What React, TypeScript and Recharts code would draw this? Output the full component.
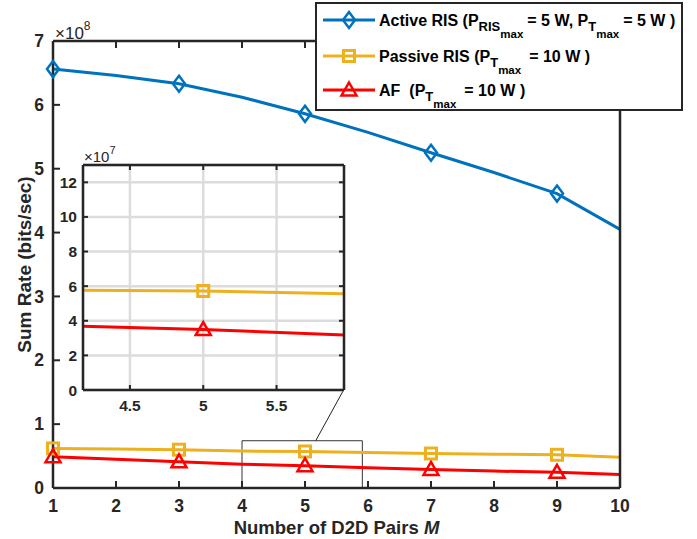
import React from 'react';
import { LineChart, Line, XAxis, YAxis, CartesianGrid, ReferenceArea, ReferenceLine } from 'recharts';

// number of D2D pairs M
const pairs = [1, 2, 3, 4, 5, 6, 7, 8, 9, 10];
// sum rate in bits/sec
const activeRis = [6.56e8, 6.46e8, 6.33e8, 6.12e8, 5.86e8, 5.57e8, 5.25e8, 4.94e8, 4.61e8, 4.05e8];
const passiveRis = [6.2e7, 6.1e7, 6.0e7, 5.78e7, 5.72e7, 5.55e7, 5.4e7, 5.3e7, 5.2e7, 4.8e7];
const af = [4.9e7, 4.5e7, 4.1e7, 3.72e7, 3.49e7, 3.17e7, 2.9e7, 2.65e7, 2.45e7, 2.1e7];

const mainYTicks = [0, 1e8, 2e8, 3e8, 4e8, 5e8, 6e8, 7e8];
const insetXTicks = [4.5, 5, 5.5];
const insetYTicks = [0, 2e7, 4e7, 6e7, 8e7, 10e7, 12e7];

const rows = pairs.map((m, i) => ({ m, active: activeRis[i], passive: passiveRis[i], af: af[i] }));

const FONT = '"Liberation Sans", Arial, Helvetica, sans-serif';
const AX = '#262626';
const BLUE = '#0072BD';
const YEL = '#EDB120';
const RED = '#FF0000';

const Diamond = ({ cx, cy }: { cx: number; cy: number }) => (
  <polygon points={`${cx},${cy - 8} ${cx + 6},${cy} ${cx},${cy + 8} ${cx - 6},${cy}`} fill="none" stroke={BLUE} strokeWidth={2.5} />
);
const Square = ({ cx, cy }: { cx: number; cy: number }) => (
  <rect x={cx - 5.5} y={cy - 5.5} width={11} height={11} fill="none" stroke={YEL} strokeWidth={3} />
);
const Triangle = ({ cx, cy }: { cx: number; cy: number }) => (
  <polygon points={`${cx},${cy - 7.5} ${cx + 7.5},${cy + 5.5} ${cx - 7.5},${cy + 5.5}`} fill="none" stroke={RED} strokeWidth={2.5} />
);

// markers only on odd M
const oddDot = (Shape: any) => (p: any) =>
  p.payload.m % 2 === 1 ? <Shape key={p.index} cx={p.cx} cy={p.cy} /> : <g key={p.index} />;

// inward (MATLAB style) ticks; tickSize is 0 so the axis line sits at label pos -/+ margin
const mkTick = (side: string, len: number, margin: number, fontSize: number, fmt?: (v: number) => string) => (p: any) => {
  const { x, y } = p;
  const label = fmt ? fmt(p.payload.value) : null;
  const txt = { fill: AX, fontSize, fontWeight: 700, fontFamily: FONT };
  if (side === 'bottom') {
    const ay = y - margin;
    return (
      <g>
        <line x1={x} y1={ay} x2={x} y2={ay - len} stroke={AX} strokeWidth={2} />
        {label !== null && <text x={x} y={y} dy="0.71em" textAnchor="middle" {...txt}>{label}</text>}
      </g>
    );
  }
  if (side === 'top') {
    return <line x1={x} y1={y} x2={x} y2={y + len} stroke={AX} strokeWidth={2} />;
  }
  if (side === 'left') {
    const ax = x + margin;
    return (
      <g>
        <line x1={ax} y1={y} x2={ax + len} y2={y} stroke={AX} strokeWidth={2} />
        {label !== null && <text x={x} y={y} dy="0.355em" textAnchor="end" {...txt}>{label}</text>}
      </g>
    );
  }
  return <line x1={x} y1={y} x2={x - len} y2={y} stroke={AX} strokeWidth={2} />;
};

const axLine = { stroke: AX, strokeWidth: 2.5 };

const xTitle = (props: any) => {
  const vb = props.viewBox;
  return (
    <text x={vb.x + vb.width / 2} y={534} textAnchor="middle" fontFamily={FONT} fontSize={18.5} fontWeight={700} fill={AX}>
      Number of D2D Pairs <tspan fontStyle="italic">M</tspan>
    </text>
  );
};
const yTitle = (props: any) => {
  const vb = props.viewBox;
  const cy = vb.y + vb.height / 2;
  return (
    <text x={24} y={cy} transform={`rotate(-90, 24, ${cy})`} textAnchor="middle" dominantBaseline="central" fontFamily={FONT} fontSize={19} fontWeight={700} fill={AX}>
      Sum Rate (bits/sec)
    </text>
  );
};

const MainChart = () => (
  <LineChart width={697} height={539} data={rows} margin={{ top: 40, right: 76, left: 0, bottom: 0 }}>
    <XAxis xAxisId="b" dataKey="m" type="number" domain={[1, 10]} ticks={pairs} height={51}
      tick={mkTick('bottom', 7, 12, 17.5, (v) => String(v))} tickSize={0} tickMargin={12} axisLine={axLine} tickLine={false} label={xTitle} />
    <XAxis xAxisId="t" orientation="top" dataKey="m" type="number" domain={[1, 10]} ticks={pairs} height={1}
      tick={mkTick('top', 7, 0, 17)} tickSize={0} tickMargin={0} axisLine={axLine} tickLine={false} />
    <YAxis yAxisId="l" type="number" domain={[0, 7e8]} ticks={mainYTicks} width={53}
      tick={mkTick('left', 7, 9, 17.5, (v) => String(Math.round(v / 1e8)))} tickSize={0} tickMargin={9} axisLine={axLine} tickLine={false} label={yTitle} />
    <YAxis yAxisId="r" orientation="right" type="number" domain={[0, 7e8]} ticks={mainYTicks} width={1}
      tick={mkTick('right', 7, 0, 17)} tickSize={0} tickMargin={0} axisLine={axLine} tickLine={false} />
    <ReferenceArea xAxisId="b" yAxisId="l" x1={4} x2={5.91} y1={0} y2={0.74e8} fill="none" fillOpacity={0} stroke="#333" strokeWidth={1} />
    <ReferenceLine xAxisId="b" yAxisId="l" segment={[{ x: 5.17, y: 0.74e8 }, { x: 5.61, y: 1.53e8 }]} stroke="#222" strokeWidth={1} ifOverflow="visible" />
    <Line xAxisId="b" yAxisId="l" dataKey="active" stroke={BLUE} strokeWidth={3} dot={oddDot(Diamond)} isAnimationActive={false} />
    <Line xAxisId="b" yAxisId="l" dataKey="passive" stroke={YEL} strokeWidth={3} dot={oddDot(Square)} isAnimationActive={false} />
    <Line xAxisId="b" yAxisId="l" dataKey="af" stroke={RED} strokeWidth={3} dot={oddDot(Triangle)} isAnimationActive={false} />
  </LineChart>
);

const InsetChart = () => (
  <LineChart width={310} height={275} data={rows} margin={{ top: 14, right: 5, left: 0, bottom: 0 }}>
    <CartesianGrid xAxisId="b" yAxisId="l" stroke="#dcdcdc" strokeWidth={2.5} fill="#fff" />
    <XAxis xAxisId="b" dataKey="m" type="number" domain={[4.18, 5.96]} allowDataOverflow ticks={insetXTicks} height={35}
      tick={mkTick('bottom', 5, 10, 15.5, (v) => String(v))} tickSize={0} tickMargin={10} axisLine={axLine} tickLine={false} />
    <XAxis xAxisId="t" orientation="top" dataKey="m" type="number" domain={[4.18, 5.96]} allowDataOverflow ticks={insetXTicks} height={1}
      tick={mkTick('top', 5, 0, 15)} tickSize={0} tickMargin={0} axisLine={axLine} tickLine={false} />
    <YAxis yAxisId="l" type="number" domain={[0, 13e7]} allowDataOverflow ticks={insetYTicks} width={43}
      tick={mkTick('left', 5, 6, 15.5, (v) => String(Math.round(v / 1e7)))} tickSize={0} tickMargin={6} axisLine={axLine} tickLine={false} />
    <YAxis yAxisId="r" orientation="right" type="number" domain={[0, 13e7]} allowDataOverflow ticks={insetYTicks} width={1}
      tick={mkTick('right', 5, 0, 15)} tickSize={0} tickMargin={0} axisLine={axLine} tickLine={false} />
    <Line xAxisId="b" yAxisId="l" dataKey="passive" stroke={YEL} strokeWidth={3} dot={oddDot(Square)} isAnimationActive={false} />
    <Line xAxisId="b" yAxisId="l" dataKey="af" stroke={RED} strokeWidth={3} dot={oddDot(Triangle)} isAnimationActive={false} />
  </LineChart>
);

const lg = { fontFamily: FONT, fontWeight: 700, fill: '#000', fontSize: 16 } as const;

const Legend = () => (
  <svg width={697} height={539} style={{ position: 'absolute', left: 0, top: 0, pointerEvents: 'none' }}>
    <text x={55} y={39} fontFamily={FONT} fontSize={17} fill={AX}>
      ×10<tspan dy={-9} fontSize={12}>8</tspan>
    </text>
    <text x={84} y={162} fontFamily={FONT} fontSize={15} fill={AX}>
      ×10<tspan dy={-8} fontSize={11}>7</tspan>
    </text>

    <rect x={316} y={3} width={366} height={107} fill="#fff" stroke={AX} strokeWidth={2} />

    <line x1={323} y1={20} x2={375} y2={20} stroke={BLUE} strokeWidth={3} />
    <Diamond cx={349} cy={20} />
    <text {...lg} x={379} y={26}>
      Active RIS (P<tspan dy={5} fontSize={13}>RIS</tspan><tspan dy={7} fontSize={11.5}>max</tspan>
      <tspan dy={-12} dx={4}>= 5 W, P</tspan><tspan dy={5} fontSize={13}>T</tspan><tspan dy={7} fontSize={11.5}>max</tspan>
      <tspan dy={-12} dx={4}>= 5 W )</tspan>
    </text>

    <line x1={323} y1={56} x2={375} y2={56} stroke={YEL} strokeWidth={3} />
    <Square cx={349} cy={56} />
    <text {...lg} x={379} y={62}>
      Passive RIS (P<tspan dy={5} fontSize={13}>T</tspan><tspan dy={7} fontSize={11.5}>max</tspan>
      <tspan dy={-12} dx={8}>= 10 W )</tspan>
    </text>

    <line x1={323} y1={90} x2={375} y2={90} stroke={RED} strokeWidth={3} />
    <Triangle cx={349} cy={90} />
    <text {...lg} x={379} y={96}>
      AF<tspan dx={9}>(P</tspan><tspan dy={5} fontSize={13}>T</tspan><tspan dy={7} fontSize={11.5}>max</tspan>
      <tspan dy={-12} dx={8}>= 10 W )</tspan>
    </text>
  </svg>
);

export default function App() {
  return (
    <div style={{ position: 'absolute', left: 0, top: 0, width: 697, height: 539, background: '#fff' }}>
      <MainChart />
      <div style={{ position: 'absolute', left: 40, top: 150 }}>
        <InsetChart />
      </div>
      <Legend />
    </div>
  );
}
